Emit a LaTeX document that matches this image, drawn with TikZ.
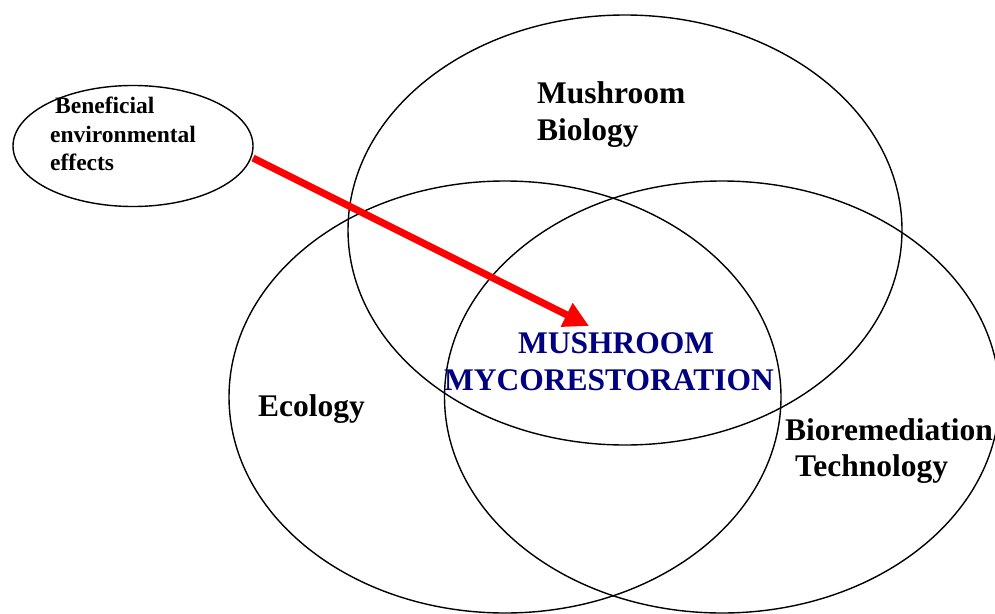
\documentclass[tikz,border=0pt]{standalone}
\usepackage{fontspec}
\setmainfont{Liberation Serif}
\usetikzlibrary{shapes.geometric,arrows.meta}
\definecolor{navytext}{RGB}{0,0,128}
\definecolor{arrowred}{RGB}{255,0,0}
\tikzset{
  venn/.style={draw=black, line width=1.4pt, ellipse, inner sep=0pt},
  biglabel/.style={anchor=base west, inner sep=0pt, font=\fontsize{31.5}{37}\selectfont\bfseries},
  smalllabel/.style={anchor=base west, inner sep=0pt, font=\fontsize{23.5}{28}\selectfont\bfseries},
  redarrow/.style={draw=arrowred, line width=7pt, -{Triangle[length=25pt,width=25pt]}}
}
\begin{document}
\begin{tikzpicture}[x=1pt,y=-1pt]
\useasboundingbox (0,0) rectangle (995,613);
\begin{scope}
\clip (0,0) rectangle (995,613);
\node[venn, minimum width=554pt, minimum height=430pt] (bio) at (625,230) {};
\node[venn, minimum width=552pt, minimum height=432pt] (eco) at (505,397) {};
\node[venn, minimum width=555pt, minimum height=432pt] (tech) at (722,397) {};
\end{scope}
\node[venn, minimum width=240pt, minimum height=121pt] (bene) at (133,146) {};
% labels
\node[biglabel] (l1) at (537,103) {Mushroom};
\node[biglabel] (l2) at (537,140) {Biology};
\node[biglabel] (l3) at (258,416) {Ecology};
\node[biglabel] (l4) at (785,440) {Bioremediation};
\node[biglabel] (l5) at (795,476) {Technology};
\node[biglabel, text=navytext] (m1) at (518,353) {MUSHROOM};
\node[biglabel, text=navytext] (m2) at (444,390) {MYCORESTORATION};
\node[smalllabel] (b1) at (55,113) {Beneficial};
\node[smalllabel] (b2) at (50,142) {environmental};
\node[smalllabel] (b3) at (50,170) {effects};
% arrow
\coordinate (astart) at (253,158);
\coordinate (atip) at (589,326);
\draw[redarrow] (astart) -- (atip);
\end{tikzpicture}
\end{document}
